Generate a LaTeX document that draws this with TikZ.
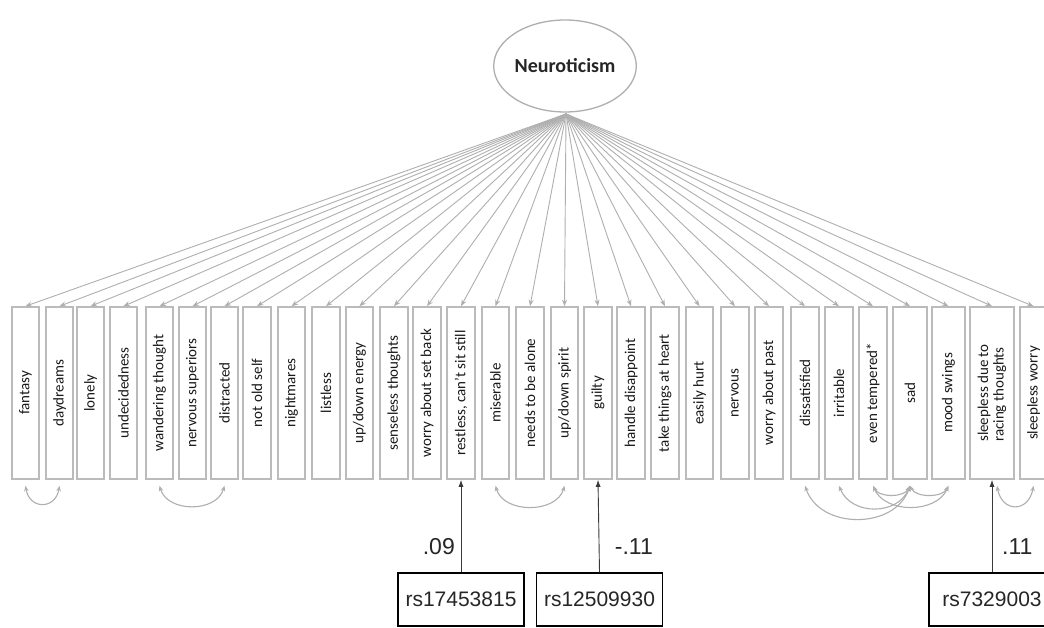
\documentclass[tikz,border=0pt]{standalone}
\usepackage{fontspec}
\setmainfont{Carlito}
\newfontfamily\arialfont{Liberation Sans}
\usetikzlibrary{arrows.meta,shapes.geometric}
\definecolor{boxgray}{HTML}{BBBBBB}
\definecolor{linegray}{HTML}{AFAFAF}
\definecolor{snpline}{HTML}{3A3A3A}
\tikzset{
  itembox/.style={draw=boxgray, line width=1.6pt, minimum height=172pt, inner sep=0pt},
  itemtext/.style={rotate=90, font=\fontsize{15}{15.5}\selectfont, align=left, inner sep=0pt, text=black!90},
  latent/.style={ellipse, draw=linegray, line width=1.3pt, minimum width=125pt, minimum height=92pt, inner sep=0pt, font=\fontsize{20}{22}\selectfont\bfseries, text=black!85},
  loading/.style={draw=linegray, line width=0.9pt, -{Stealth[length=6.5pt,width=5pt]}},
  corr/.style={draw=linegray, line width=1.1pt, {Stealth[length=5.5pt,width=4.5pt]}-{Stealth[length=5.5pt,width=4.5pt]}},
  snp/.style={draw=black, line width=1.6pt, minimum width=126pt, minimum height=53pt, inner sep=0pt, font=\arialfont\fontsize{21}{23}\selectfont, text=black!85},
  effect/.style={draw=snpline, line width=0.9pt, -{Latex[length=7pt,width=5pt]}},
  coef/.style={font=\arialfont\fontsize{23}{25}\selectfont, text=black!85, inner sep=0pt}
}
\begin{document}
\begin{tikzpicture}[x=1pt,y=-1pt]
\useasboundingbox (0,0) rectangle (1044,628);
\clip (0,0) rectangle (1044,628);
\fill[white] (0,0) rectangle (1044,628);

\node[latent] (neuro) at (565,66) {Neuroticism};
\coordinate (apex) at (566,114);

\foreach \i/\x/\w/\t in {
 1/25.5/27/{fantasy},
 2/59.5/27/{daydreams},
 3/90.5/27/{lonely},
 4/123.5/27/{undecidedness},
 5/159.5/27/{wandering thought},
 6/192.5/27/{nervous superiors},
 7/224.5/27/{distracted},
 8/257/28/{not old self},
 9/291.5/27/{nightmares},
 10/326/28/{listless},
 11/359.5/27/{up/down energy},
 12/394/28/{senseless thoughts},
 13/427/28/{worry about set back},
 14/461/28/{restless, can't sit still},
 15/495.5/27/{miserable},
 16/530/28/{needs to be alone},
 17/564.5/27/{up/down spirit},
 18/598/28/{guilty},
 19/631/28/{handle disappoint},
 20/665/28/{take things at heart},
 21/699.5/27/{easily hurt},
 22/735/28/{nervous},
 23/769/28/{worry about past},
 24/805/28/{dissatisfied},
 25/839/28/{irritable},
 26/873/28/{even tempered*},
 27/910/34/{sad},
 28/948.5/33/{mood swings},
 29/992/44/{sleepless due to\\racing thoughts},
 30/1033.5/27/{sleepless worry}}
{
  \node[itembox, minimum width=\w pt] (b\i) at (\x,393) {};
  \node[itemtext] at (b\i.center) {\t};
  \draw[loading] (apex) -- (b\i.north);
}

% correlated residuals
\draw[corr] ([yshift=-6pt]b1.south) .. controls +(4,24) and +(-4,24) .. ([yshift=-6pt]b2.south);
\draw[corr] ([yshift=-6pt]b5.south) .. controls +(8,27) and +(-8,27) .. ([yshift=-6pt]b7.south);
\draw[corr] ([yshift=-6pt]b15.south) .. controls +(8,28) and +(-8,28) .. ([yshift=-6pt]b17.south);
\draw[corr] ([xshift=5pt,yshift=-6pt]b29.south) .. controls +(5,27) and +(-5,27) .. ([yshift=-6pt]b30.south);
\draw[corr] ([yshift=-6pt]b24.south) .. controls +(15,44) and +(-15,44) .. ([yshift=-6pt]b27.south);
\draw[corr] ([yshift=-6pt]b25.south) .. controls +(12,30) and +(-12,30) .. ([yshift=-6pt]b27.south);
\draw[corr] ([yshift=-6pt]b26.south) .. controls +(6,12) and +(-6,12) .. ([yshift=-6pt]b27.south);
\draw[corr] ([yshift=-6pt]b27.south) .. controls +(6,12) and +(-6,12) .. ([yshift=-6pt]b28.south);
\draw[corr] ([yshift=-6pt]b26.south) .. controls +(12,28) and +(-12,28) .. ([yshift=-6pt]b28.south);

% SNPs
\node[snp] (s1) at (461,599.5) {rs17453815};
\node[snp] (s2) at (599.5,599.5) {rs12509930};
\node[snp] (s3) at (992,599.5) {rs7329003};
\draw[effect] (s1.north) -- (b14.south);
\draw[effect] (s2.north) -- (b18.south);
\draw[effect] (s3.north) -- (b29.south);
\node[coef, anchor=east] (c1) at (455,547) {.09};
\node[coef, anchor=east] (c2) at (653,547) {-.11};
\node[coef, anchor=west] (c3) at (1002,547) {.11};
\end{tikzpicture}
\end{document}
